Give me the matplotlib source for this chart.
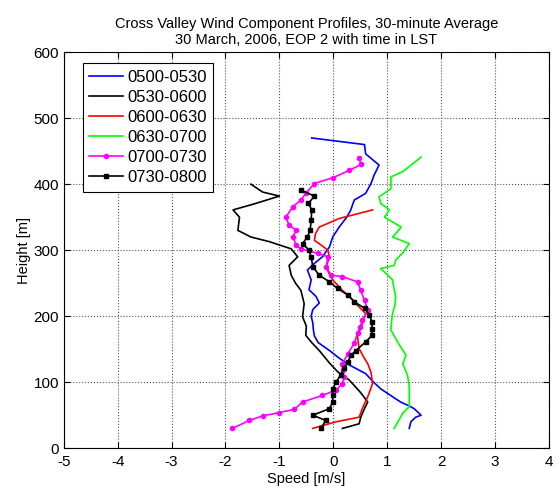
import matplotlib
matplotlib.use('Agg')
import matplotlib.pyplot as plt

plt.rcParams['font.family'] = ['Liberation Sans', 'DejaVu Sans']
plt.rcParams['axes.unicode_minus'] = False

# 0500-0530
h_0500 = [30, 40, 47, 50, 60, 64, 70, 78, 90, 100, 113, 126, 137, 148, 160, 170, 180, 190,
          200, 210, 220, 230, 240, 255, 270, 280, 290, 305, 320, 335, 350, 360, 376, 386,
          401, 414, 429, 446, 460, 470]
v_0500 = [1.41, 1.44, 1.53, 1.63, 1.50, 1.41, 1.25, 1.10, 0.88, 0.75, 0.60, 0.30, 0.10, -0.07,
          -0.28, -0.35, -0.37, -0.38, -0.41, -0.38, -0.26, -0.32, -0.45, -0.41, -0.48, -0.35,
          -0.20, -0.07, -0.01, 0.11, 0.25, 0.32, 0.39, 0.60, 0.70, 0.76, 0.85, 0.60, 0.58, -0.40]

# 0530-0600
h_0530 = [30, 37, 47, 60, 70, 85, 103, 116, 130, 148, 160, 171, 185, 199, 219, 239, 250, 262,
          277, 290, 302, 313, 320, 330, 350, 361, 371, 382, 388, 400]
v_0530 = [0.17, 0.48, 0.51, 0.58, 0.64, 0.50, 0.30, 0.08, -0.08, -0.26, -0.40, -0.51, -0.50,
          -0.57, -0.54, -0.60, -0.70, -0.78, -0.82, -0.66, -0.78, -1.19, -1.53, -1.77, -1.74,
          -1.86, -1.43, -1.00, -1.31, -1.53]

# 0600-0630
h_0600 = [30, 40, 47, 60, 80, 98, 115, 128, 140, 151, 169, 180, 189, 204, 219, 230, 239, 255,
          265, 275, 290, 300, 308, 315, 325, 335, 348, 361]
v_0600 = [-0.38, 0.05, 0.48, 0.54, 0.65, 0.73, 0.70, 0.64, 0.55, 0.48, 0.45, 0.50, 0.54, 0.60,
          0.42, 0.30, 0.17, -0.01, -0.08, -0.13, -0.07, -0.10, -0.23, -0.35, -0.33, -0.26,
          0.11, 0.73]

# 0630-0700
h_0630 = [30, 40, 53, 63, 80, 93, 110, 128, 141, 160, 179, 190, 204, 215, 229, 245, 255, 260,
          272, 277, 285, 297, 310, 320, 325, 335, 350, 361, 371, 381, 393, 411, 419, 441]
v_0630 = [1.13, 1.20, 1.29, 1.41, 1.41, 1.41, 1.38, 1.29, 1.35, 1.20, 1.07, 1.08, 1.10, 1.14,
          1.16, 1.12, 1.10, 1.04, 0.88, 1.13, 1.16, 1.30, 1.41, 1.10, 1.16, 1.26, 0.95, 1.04,
          0.88, 0.85, 1.07, 1.07, 1.29, 1.63]

# 0700-0730
h_0700 = [30, 42, 49, 54, 59, 70, 80, 88, 98, 108, 118, 128, 143, 159, 174, 184, 194, 209, 224,
          239, 252, 260, 262, 275, 290, 295, 302, 308, 320, 330, 338, 350, 366, 376, 386, 401,
          410, 421, 430, 440]
v_0700 = [-1.87, -1.56, -1.31, -1.00, -0.72, -0.57, -0.20, 0.05, 0.17, 0.20, 0.18, 0.17, 0.27,
          0.39, 0.45, 0.50, 0.54, 0.64, 0.58, 0.51, 0.45, 0.17, -0.04, -0.13, -0.10, -0.29,
          -0.60, -0.69, -0.75, -0.69, -0.82, -0.88, -0.75, -0.60, -0.51, -0.35, 0.00, 0.30,
          0.52, 0.47]

# 0730-0800
h_0730 = [30, 42, 50, 60, 70, 80, 90, 100, 111, 121, 131, 141, 148, 161, 171, 181, 191, 202,
          212, 222, 232, 242, 252, 262, 275, 290, 300, 310, 320, 330, 345, 361, 371, 382, 391]
v_0730 = [-0.23, -0.14, -0.38, -0.07, -0.01, -0.01, -0.01, 0.05, 0.14, 0.20, 0.27, 0.33, 0.42,
          0.60, 0.72, 0.72, 0.72, 0.67, 0.58, 0.39, 0.27, 0.08, -0.07, -0.26, -0.38, -0.41,
          -0.45, -0.57, -0.48, -0.43, -0.41, -0.40, -0.46, -0.35, -0.60]

fig = plt.figure(figsize=(5.6, 4.92), dpi=100)
ax = fig.add_axes([0.114, 0.089, 0.866, 0.805])

lw = 1.2
ax.plot(v_0500, h_0500, color='#0000ff', lw=lw, label='0500-0530')
ax.plot(v_0530, h_0530, color='black', lw=lw, label='0530-0600')
ax.plot(v_0600, h_0600, color='#ff0000', lw=lw, label='0600-0630')
ax.plot(v_0630, h_0630, color='#00ff00', lw=lw, label='0630-0700')
ax.plot(v_0700, h_0700, color='#ff00ff', lw=lw, marker='o', ms=3, label='0700-0730')
ax.plot(v_0730, h_0730, color='black', lw=lw, marker='s', ms=3, mfc='black',
        label='0730-0800')

ax.set_xlim(-5, 4)
ax.set_ylim(0, 600)
ax.set_xticks(range(-5, 5))
ax.set_yticks(range(0, 601, 100))
ax.grid(True, linestyle=':', color='#555555', linewidth=0.8)
ax.tick_params(direction='in', top=True, right=True, labelsize=11, length=4)
ax.tick_params(axis='x', pad=5)
for s in ax.spines.values():
    s.set_linewidth(0.8)

ax.set_xlabel('Speed [m/s]', fontsize=10.5, labelpad=2)
ax.set_ylabel('Height [m]', fontsize=10.5, labelpad=2)
ax.set_title('Cross Valley Wind Component Profiles, 30-minute Average\n'
             '30 March, 2006, EOP 2 with time in LST', fontsize=10.5, pad=6)

leg = ax.legend(loc='upper left', fontsize=12, handlelength=2.0, fancybox=False,
                edgecolor='black', framealpha=1, borderpad=0.4, labelspacing=0.3,
                handletextpad=0.25, borderaxespad=0, bbox_to_anchor=(0.039, 0.972))
leg.get_frame().set_linewidth(0.8)

fig.savefig('out.png', dpi=100)
